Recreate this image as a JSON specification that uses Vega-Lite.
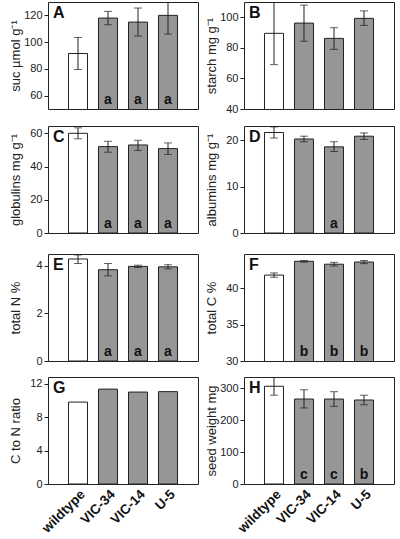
{
"$schema":"https://vega.github.io/schema/vega-lite/v6.json",
"padding":{"left":8,"top":1,"right":0,"bottom":0},
"config":{
 "font":"Liberation Sans",
 "view":{"stroke":"#222","strokeWidth":1},
 "axisY":{"domain":false,"grid":false,"tickSize":4,"tickColor":"#222","labelFontSize":11,"labelColor":"#222","labelPadding":2,"labelOverlap":false,"titleFontSize":13,"titleFontWeight":"normal","titleColor":"#222","titleX":-29,"titleBaseline":"alphabetic"},
 "axisX":{"domain":false,"ticks":false,"grid":false,"labelAngle":-45,"labelFontSize":13.5,"labelFontWeight":"bold","labelColor":"#111","labelPadding":3}
},
"datasets":{
 "A":[{"g":"wildtype","v":91.5,"lo":79.5,"hi":103.5,"t":""},{"g":"VIC-34","v":118,"lo":113,"hi":123,"t":"a"},{"g":"VIC-14","v":115,"lo":104.5,"hi":125.5,"t":"a"},{"g":"U-5","v":120,"lo":106,"hi":134,"t":"a"}],
 "B":[{"g":"wildtype","v":89.5,"lo":69,"hi":109.8,"t":""},{"g":"VIC-34","v":96.2,"lo":84.3,"hi":108,"t":""},{"g":"VIC-14","v":86.2,"lo":79,"hi":93.2,"t":""},{"g":"U-5","v":99.3,"lo":94.7,"hi":104.2,"t":""}],
 "C":[{"g":"wildtype","v":60,"lo":56.7,"hi":63.3,"t":""},{"g":"VIC-34","v":52,"lo":48.6,"hi":55.2,"t":"a"},{"g":"VIC-14","v":53,"lo":49.7,"hi":55.8,"t":"a"},{"g":"U-5","v":50.8,"lo":47.3,"hi":54.2,"t":"a"}],
 "D":[{"g":"wildtype","v":21.7,"lo":20.5,"hi":22.9,"t":""},{"g":"VIC-34","v":20.3,"lo":19.7,"hi":20.9,"t":""},{"g":"VIC-14","v":18.6,"lo":17.6,"hi":19.7,"t":"a"},{"g":"U-5","v":20.9,"lo":20.2,"hi":21.6,"t":""}],
 "E":[{"g":"wildtype","v":4.29,"lo":4.1,"hi":4.46,"t":""},{"g":"VIC-34","v":3.84,"lo":3.58,"hi":4.1,"t":"a"},{"g":"VIC-14","v":3.98,"lo":3.93,"hi":4.03,"t":"a"},{"g":"U-5","v":3.96,"lo":3.87,"hi":4.05,"t":"a"}],
 "F":[{"g":"wildtype","v":41.8,"lo":41.5,"hi":42.1,"t":""},{"g":"VIC-34","v":43.7,"lo":43.58,"hi":43.82,"t":"b"},{"g":"VIC-14","v":43.3,"lo":43.05,"hi":43.55,"t":"b"},{"g":"U-5","v":43.6,"lo":43.38,"hi":43.8,"t":"b"}],
 "G":[{"g":"wildtype","v":9.8},{"g":"VIC-34","v":11.35},{"g":"VIC-14","v":11.0},{"g":"U-5","v":11.05}],
 "H":[{"g":"wildtype","v":306,"lo":278,"hi":334,"t":""},{"g":"VIC-34","v":266,"lo":238,"hi":295,"t":"c"},{"g":"VIC-14","v":266,"lo":243,"hi":289,"t":"c"},{"g":"U-5","v":263,"lo":248,"hi":278,"t":"b"}]
},
"spacing":14,
"vconcat":[
 {"spacing":10,"vconcat":[
  {"bounds":"flush","spacing":46,"hconcat":[
   {"width":150,"height":107,"data":{"name":"A"},
    "encoding":{"x":{"field":"g","type":"nominal","sort":null,"scale":{"paddingInner":0.3667,"paddingOuter":0.6833},"axis":null}},
    "layer":[
     {"mark":{"type":"bar","stroke":"#222","strokeWidth":1,"clip":true},"encoding":{"y":{"field":"v","type":"quantitative","scale":{"domain":[50,130],"nice":false,"zero":false},"axis":{"title":"suc µmol g⁻¹","values":[60,80,100,120]}},"fill":{"field":"g","type":"nominal","scale":{"domain":["wildtype","VIC-34","VIC-14","U-5"],"range":["#ffffff","#969696","#969696","#969696"]},"legend":null}}},
     {"mark":{"type":"rule","color":"#222","clip":true},"encoding":{"y":{"field":"lo","type":"quantitative","axis":{"title":"suc µmol g⁻¹","values":[60,80,100,120]},"scale":{"domain":[50,130],"nice":false,"zero":false}},"y2":{"field":"hi"}}},
     {"mark":{"type":"tick","color":"#222","size":8,"thickness":1,"clip":true},"encoding":{"y":{"field":"lo","type":"quantitative","axis":{"title":"suc µmol g⁻¹","values":[60,80,100,120]},"scale":{"domain":[50,130],"nice":false,"zero":false}}}},
     {"mark":{"type":"tick","color":"#222","size":8,"thickness":1,"clip":true},"encoding":{"y":{"field":"hi","type":"quantitative","axis":{"title":"suc µmol g⁻¹","values":[60,80,100,120]},"scale":{"domain":[50,130],"nice":false,"zero":false}}}},
     {"mark":{"type":"text","fontWeight":"bold","fontSize":14,"dy":-5,"baseline":"alphabetic","color":"#111"},"encoding":{"y":{"datum":50,"type":"quantitative","axis":{"title":"suc µmol g⁻¹","values":[60,80,100,120]},"scale":{"domain":[50,130],"nice":false,"zero":false}},"text":{"field":"t"}}},
     {"data":{"values":[{"p":"A"}]},"mark":{"type":"text","fontWeight":"bold","fontSize":16,"align":"left","baseline":"top","dx":-25,"dy":3,"color":"#111"},"encoding":{"x":{"datum":"wildtype"},"y":{"datum":130,"type":"quantitative","axis":{"title":"suc µmol g⁻¹","values":[60,80,100,120]},"scale":{"domain":[50,130],"nice":false,"zero":false}},"text":{"field":"p"}}}
    ]},
   {"width":150,"height":107,"data":{"name":"B"},
    "encoding":{"x":{"field":"g","type":"nominal","sort":null,"scale":{"paddingInner":0.3667,"paddingOuter":0.6833},"axis":null}},
    "layer":[
     {"mark":{"type":"bar","stroke":"#222","strokeWidth":1,"clip":true},"encoding":{"y":{"field":"v","type":"quantitative","scale":{"domain":[40,110],"nice":false,"zero":false},"axis":{"title":"starch mg g⁻¹","values":[40,60,80,100]}},"fill":{"field":"g","type":"nominal","scale":{"domain":["wildtype","VIC-34","VIC-14","U-5"],"range":["#ffffff","#969696","#969696","#969696"]},"legend":null}}},
     {"mark":{"type":"rule","color":"#222","clip":true},"encoding":{"y":{"field":"lo","type":"quantitative","axis":{"title":"starch mg g⁻¹","values":[40,60,80,100]},"scale":{"domain":[40,110],"nice":false,"zero":false}},"y2":{"field":"hi"}}},
     {"mark":{"type":"tick","color":"#222","size":8,"thickness":1,"clip":true},"encoding":{"y":{"field":"lo","type":"quantitative","axis":{"title":"starch mg g⁻¹","values":[40,60,80,100]},"scale":{"domain":[40,110],"nice":false,"zero":false}}}},
     {"mark":{"type":"tick","color":"#222","size":8,"thickness":1,"clip":true},"encoding":{"y":{"field":"hi","type":"quantitative","axis":{"title":"starch mg g⁻¹","values":[40,60,80,100]},"scale":{"domain":[40,110],"nice":false,"zero":false}}}},
     {"data":{"values":[{"p":"B"}]},"mark":{"type":"text","fontWeight":"bold","fontSize":16,"align":"left","baseline":"top","dx":-25,"dy":3,"color":"#111"},"encoding":{"x":{"datum":"wildtype"},"y":{"datum":110,"type":"quantitative","axis":{"title":"starch mg g⁻¹","values":[40,60,80,100]},"scale":{"domain":[40,110],"nice":false,"zero":false}},"text":{"field":"p"}}}
    ]}
  ]},
  {"bounds":"flush","spacing":46,"hconcat":[
   {"width":150,"height":107,"data":{"name":"C"},
    "encoding":{"x":{"field":"g","type":"nominal","sort":null,"scale":{"paddingInner":0.3667,"paddingOuter":0.6833},"axis":null}},
    "layer":[
     {"mark":{"type":"bar","stroke":"#222","strokeWidth":1,"clip":true},"encoding":{"y":{"field":"v","type":"quantitative","scale":{"domain":[0,64.4],"nice":false,"zero":false},"axis":{"title":"globulins mg g⁻¹","values":[0,20,40,60]}},"fill":{"field":"g","type":"nominal","scale":{"domain":["wildtype","VIC-34","VIC-14","U-5"],"range":["#ffffff","#969696","#969696","#969696"]},"legend":null}}},
     {"mark":{"type":"rule","color":"#222","clip":true},"encoding":{"y":{"field":"lo","type":"quantitative","axis":{"title":"globulins mg g⁻¹","values":[0,20,40,60]},"scale":{"domain":[0,64.4],"nice":false,"zero":false}},"y2":{"field":"hi"}}},
     {"mark":{"type":"tick","color":"#222","size":8,"thickness":1,"clip":true},"encoding":{"y":{"field":"lo","type":"quantitative","axis":{"title":"globulins mg g⁻¹","values":[0,20,40,60]},"scale":{"domain":[0,64.4],"nice":false,"zero":false}}}},
     {"mark":{"type":"tick","color":"#222","size":8,"thickness":1,"clip":true},"encoding":{"y":{"field":"hi","type":"quantitative","axis":{"title":"globulins mg g⁻¹","values":[0,20,40,60]},"scale":{"domain":[0,64.4],"nice":false,"zero":false}}}},
     {"mark":{"type":"text","fontWeight":"bold","fontSize":14,"dy":-5,"baseline":"alphabetic","color":"#111"},"encoding":{"y":{"datum":0,"type":"quantitative","axis":{"title":"globulins mg g⁻¹","values":[0,20,40,60]},"scale":{"domain":[0,64.4],"nice":false,"zero":false}},"text":{"field":"t"}}},
     {"data":{"values":[{"p":"C"}]},"mark":{"type":"text","fontWeight":"bold","fontSize":16,"align":"left","baseline":"top","dx":-25,"dy":3,"color":"#111"},"encoding":{"x":{"datum":"wildtype"},"y":{"datum":64.4,"type":"quantitative","axis":{"title":"globulins mg g⁻¹","values":[0,20,40,60]},"scale":{"domain":[0,64.4],"nice":false,"zero":false}},"text":{"field":"p"}}}
    ]},
   {"width":150,"height":107,"data":{"name":"D"},
    "encoding":{"x":{"field":"g","type":"nominal","sort":null,"scale":{"paddingInner":0.3667,"paddingOuter":0.6833},"axis":null}},
    "layer":[
     {"mark":{"type":"bar","stroke":"#222","strokeWidth":1,"clip":true},"encoding":{"y":{"field":"v","type":"quantitative","scale":{"domain":[0,23.1],"nice":false,"zero":false},"axis":{"title":"albumins mg g⁻¹","values":[0,10,20]}},"fill":{"field":"g","type":"nominal","scale":{"domain":["wildtype","VIC-34","VIC-14","U-5"],"range":["#ffffff","#969696","#969696","#969696"]},"legend":null}}},
     {"mark":{"type":"rule","color":"#222","clip":true},"encoding":{"y":{"field":"lo","type":"quantitative","axis":{"title":"albumins mg g⁻¹","values":[0,10,20]},"scale":{"domain":[0,23.1],"nice":false,"zero":false}},"y2":{"field":"hi"}}},
     {"mark":{"type":"tick","color":"#222","size":8,"thickness":1,"clip":true},"encoding":{"y":{"field":"lo","type":"quantitative","axis":{"title":"albumins mg g⁻¹","values":[0,10,20]},"scale":{"domain":[0,23.1],"nice":false,"zero":false}}}},
     {"mark":{"type":"tick","color":"#222","size":8,"thickness":1,"clip":true},"encoding":{"y":{"field":"hi","type":"quantitative","axis":{"title":"albumins mg g⁻¹","values":[0,10,20]},"scale":{"domain":[0,23.1],"nice":false,"zero":false}}}},
     {"mark":{"type":"text","fontWeight":"bold","fontSize":14,"dy":-5,"baseline":"alphabetic","color":"#111"},"encoding":{"y":{"datum":0,"type":"quantitative","axis":{"title":"albumins mg g⁻¹","values":[0,10,20]},"scale":{"domain":[0,23.1],"nice":false,"zero":false}},"text":{"field":"t"}}},
     {"data":{"values":[{"p":"D"}]},"mark":{"type":"text","fontWeight":"bold","fontSize":16,"align":"left","baseline":"top","dx":-25,"dy":3,"color":"#111"},"encoding":{"x":{"datum":"wildtype"},"y":{"datum":23.1,"type":"quantitative","axis":{"title":"albumins mg g⁻¹","values":[0,10,20]},"scale":{"domain":[0,23.1],"nice":false,"zero":false}},"text":{"field":"p"}}}
    ]}
  ]}
 ]},
 {"spacing":9,"vconcat":[
  {"bounds":"flush","spacing":46,"hconcat":[
   {"width":150,"height":107,"data":{"name":"E"},
    "encoding":{"x":{"field":"g","type":"nominal","sort":null,"scale":{"paddingInner":0.3667,"paddingOuter":0.6833},"axis":null}},
    "layer":[
     {"mark":{"type":"bar","stroke":"#222","strokeWidth":1,"clip":true},"encoding":{"y":{"field":"v","type":"quantitative","scale":{"domain":[0,4.5],"nice":false,"zero":false},"axis":{"title":"total N %","values":[0,2,4]}},"fill":{"field":"g","type":"nominal","scale":{"domain":["wildtype","VIC-34","VIC-14","U-5"],"range":["#ffffff","#969696","#969696","#969696"]},"legend":null}}},
     {"mark":{"type":"rule","color":"#222","clip":true},"encoding":{"y":{"field":"lo","type":"quantitative","axis":{"title":"total N %","values":[0,2,4]},"scale":{"domain":[0,4.5],"nice":false,"zero":false}},"y2":{"field":"hi"}}},
     {"mark":{"type":"tick","color":"#222","size":8,"thickness":1,"clip":true},"encoding":{"y":{"field":"lo","type":"quantitative","axis":{"title":"total N %","values":[0,2,4]},"scale":{"domain":[0,4.5],"nice":false,"zero":false}}}},
     {"mark":{"type":"tick","color":"#222","size":8,"thickness":1,"clip":true},"encoding":{"y":{"field":"hi","type":"quantitative","axis":{"title":"total N %","values":[0,2,4]},"scale":{"domain":[0,4.5],"nice":false,"zero":false}}}},
     {"mark":{"type":"text","fontWeight":"bold","fontSize":14,"dy":-5,"baseline":"alphabetic","color":"#111"},"encoding":{"y":{"datum":0,"type":"quantitative","axis":{"title":"total N %","values":[0,2,4]},"scale":{"domain":[0,4.5],"nice":false,"zero":false}},"text":{"field":"t"}}},
     {"data":{"values":[{"p":"E"}]},"mark":{"type":"text","fontWeight":"bold","fontSize":16,"align":"left","baseline":"top","dx":-25,"dy":3,"color":"#111"},"encoding":{"x":{"datum":"wildtype"},"y":{"datum":4.5,"type":"quantitative","axis":{"title":"total N %","values":[0,2,4]},"scale":{"domain":[0,4.5],"nice":false,"zero":false}},"text":{"field":"p"}}}
    ]},
   {"width":150,"height":107,"data":{"name":"F"},
    "encoding":{"x":{"field":"g","type":"nominal","sort":null,"scale":{"paddingInner":0.3667,"paddingOuter":0.6833},"axis":null}},
    "layer":[
     {"mark":{"type":"bar","stroke":"#222","strokeWidth":1,"clip":true},"encoding":{"y":{"field":"v","type":"quantitative","scale":{"domain":[30,44.7],"nice":false,"zero":false},"axis":{"title":"total C %","values":[30,35,40]}},"fill":{"field":"g","type":"nominal","scale":{"domain":["wildtype","VIC-34","VIC-14","U-5"],"range":["#ffffff","#969696","#969696","#969696"]},"legend":null}}},
     {"mark":{"type":"rule","color":"#222","clip":true},"encoding":{"y":{"field":"lo","type":"quantitative","axis":{"title":"total C %","values":[30,35,40]},"scale":{"domain":[30,44.7],"nice":false,"zero":false}},"y2":{"field":"hi"}}},
     {"mark":{"type":"tick","color":"#222","size":8,"thickness":1,"clip":true},"encoding":{"y":{"field":"lo","type":"quantitative","axis":{"title":"total C %","values":[30,35,40]},"scale":{"domain":[30,44.7],"nice":false,"zero":false}}}},
     {"mark":{"type":"tick","color":"#222","size":8,"thickness":1,"clip":true},"encoding":{"y":{"field":"hi","type":"quantitative","axis":{"title":"total C %","values":[30,35,40]},"scale":{"domain":[30,44.7],"nice":false,"zero":false}}}},
     {"mark":{"type":"text","fontWeight":"bold","fontSize":14,"dy":-5,"baseline":"alphabetic","color":"#111"},"encoding":{"y":{"datum":30,"type":"quantitative","axis":{"title":"total C %","values":[30,35,40]},"scale":{"domain":[30,44.7],"nice":false,"zero":false}},"text":{"field":"t"}}},
     {"data":{"values":[{"p":"F"}]},"mark":{"type":"text","fontWeight":"bold","fontSize":16,"align":"left","baseline":"top","dx":-25,"dy":3,"color":"#111"},"encoding":{"x":{"datum":"wildtype"},"y":{"datum":44.7,"type":"quantitative","axis":{"title":"total C %","values":[30,35,40]},"scale":{"domain":[30,44.7],"nice":false,"zero":false}},"text":{"field":"p"}}}
    ]}
  ]},
  {"bounds":"flush","spacing":46,"hconcat":[
   {"width":150,"height":107,"data":{"name":"G"},
    "encoding":{"x":{"field":"g","type":"nominal","sort":null,"scale":{"paddingInner":0.3667,"paddingOuter":0.6833},"axis":{"title":null}}},
    "layer":[
     {"mark":{"type":"bar","stroke":"#222","strokeWidth":1,"clip":true},"encoding":{"y":{"field":"v","type":"quantitative","scale":{"domain":[0,12.8],"nice":false,"zero":false},"axis":{"title":"C to N ratio","values":[0,4,8,12]}},"fill":{"field":"g","type":"nominal","scale":{"domain":["wildtype","VIC-34","VIC-14","U-5"],"range":["#ffffff","#969696","#969696","#969696"]},"legend":null}}},
     {"data":{"values":[{"p":"G"}]},"mark":{"type":"text","fontWeight":"bold","fontSize":16,"align":"left","baseline":"top","dx":-25,"dy":3,"color":"#111"},"encoding":{"x":{"datum":"wildtype"},"y":{"datum":12.8,"type":"quantitative","axis":{"title":"C to N ratio","values":[0,4,8,12]},"scale":{"domain":[0,12.8],"nice":false,"zero":false}},"text":{"field":"p"}}}
    ]},
   {"width":150,"height":107,"data":{"name":"H"},
    "encoding":{"x":{"field":"g","type":"nominal","sort":null,"scale":{"paddingInner":0.3667,"paddingOuter":0.6833},"axis":{"title":null}}},
    "layer":[
     {"mark":{"type":"bar","stroke":"#222","strokeWidth":1,"clip":true},"encoding":{"y":{"field":"v","type":"quantitative","scale":{"domain":[0,335],"nice":false,"zero":false},"axis":{"title":"seed weight mg","values":[0,100,200,300]}},"fill":{"field":"g","type":"nominal","scale":{"domain":["wildtype","VIC-34","VIC-14","U-5"],"range":["#ffffff","#969696","#969696","#969696"]},"legend":null}}},
     {"mark":{"type":"rule","color":"#222","clip":true},"encoding":{"y":{"field":"lo","type":"quantitative","axis":{"title":"seed weight mg","values":[0,100,200,300]},"scale":{"domain":[0,335],"nice":false,"zero":false}},"y2":{"field":"hi"}}},
     {"mark":{"type":"tick","color":"#222","size":8,"thickness":1,"clip":true},"encoding":{"y":{"field":"lo","type":"quantitative","axis":{"title":"seed weight mg","values":[0,100,200,300]},"scale":{"domain":[0,335],"nice":false,"zero":false}}}},
     {"mark":{"type":"tick","color":"#222","size":8,"thickness":1,"clip":true},"encoding":{"y":{"field":"hi","type":"quantitative","axis":{"title":"seed weight mg","values":[0,100,200,300]},"scale":{"domain":[0,335],"nice":false,"zero":false}}}},
     {"mark":{"type":"text","fontWeight":"bold","fontSize":14,"dy":-5,"baseline":"alphabetic","color":"#111"},"encoding":{"y":{"datum":0,"type":"quantitative","axis":{"title":"seed weight mg","values":[0,100,200,300]},"scale":{"domain":[0,335],"nice":false,"zero":false}},"text":{"field":"t"}}},
     {"data":{"values":[{"p":"H"}]},"mark":{"type":"text","fontWeight":"bold","fontSize":16,"align":"left","baseline":"top","dx":-25,"dy":3,"color":"#111"},"encoding":{"x":{"datum":"wildtype"},"y":{"datum":335,"type":"quantitative","axis":{"title":"seed weight mg","values":[0,100,200,300]},"scale":{"domain":[0,335],"nice":false,"zero":false}},"text":{"field":"p"}}}
    ]}
  ]}
 ]}
]
}
